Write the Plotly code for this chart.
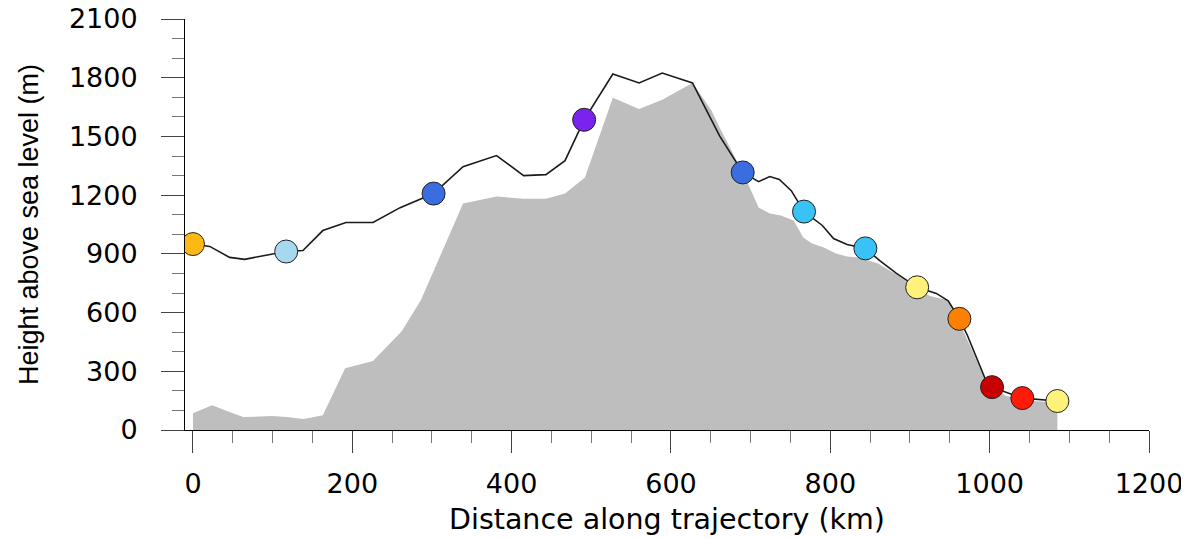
import plotly.graph_objects as go

# Trajectory (distance km, height m)
traj_km = [0, 21, 46, 65, 90, 117, 138, 163, 192, 226, 260, 302, 339, 381, 415, 443, 467, 491,
           527, 560, 589, 627, 661, 690, 710, 724, 736, 751, 767, 790, 804, 821, 844, 862, 883,
           909, 933, 948, 962, 972, 994, 1003, 1041, 1085]
traj_h = [950, 938, 882, 872, 892, 912, 917, 1019, 1060, 1060, 1136, 1208, 1345, 1402, 1300, 1305, 1376, 1585,
          1819, 1773, 1824, 1773, 1503, 1316, 1269, 1295, 1280, 1223, 1116, 1045, 978, 948, 928, 866, 800,
          729, 698, 660, 568, 484, 265, 219, 163, 148]

# Marked positions along trajectory
marker_km = [0, 117, 302, 491, 690, 767, 844, 909, 962, 1003, 1041, 1085]
marker_h = [950, 912, 1208, 1585, 1316, 1116, 928, 729, 568, 219, 163, 148]
marker_colors = ["#FDB913", "#A8D8F0", "#3A6DE0", "#7B22EE", "#3A6DE0", "#38C2F5",
                 "#38C2F5", "#FFF27A", "#FF8000", "#C80000", "#FF1A0A", "#FFF27A"]

# Terrain profile under the trajectory
terrain_km = [0, 24, 46, 63, 99, 118, 139, 163, 191, 226, 262, 286, 339, 381, 415, 443, 467, 492,
              527, 560, 589, 627, 651, 661, 690, 695, 710, 724, 738, 754, 766, 777, 792, 807, 821,
              836, 860, 885, 905, 925, 948, 955, 978, 994, 1020, 1050, 1085]
terrain_h = [86, 127, 92, 66, 71, 66, 56, 76, 315, 352, 505, 663, 1157, 1193, 1182, 1182, 1208, 1290,
             1697, 1640, 1687, 1773, 1631, 1545, 1316, 1274, 1137, 1106, 1096, 1070, 984, 953, 933, 902, 887,
             882, 851, 790, 735, 685, 663, 612, 408, 255, 175, 150, 140]

x_ticks = [0, 200, 400, 600, 800, 1000, 1200]
y_ticks = [0, 300, 600, 900, 1200, 1500, 1800, 2100]

fig = go.Figure()
fig.add_trace(go.Scatter(x=terrain_km, y=terrain_h, mode="lines", fill="tozeroy",
                         fillcolor="#BEBEBE", line=dict(width=0, color="#BEBEBE"),
                         hoverinfo="skip", showlegend=False))
fig.add_trace(go.Scatter(x=traj_km, y=traj_h, mode="lines",
                         line=dict(color="#1a1a1a", width=1.6), showlegend=False))
fig.add_trace(go.Scatter(x=marker_km, y=marker_h, mode="markers",
                         marker=dict(size=23, color=marker_colors,
                                     line=dict(color="#222222", width=1)),
                         showlegend=False))

font_main = "Liberation Sans, Arial, sans-serif"
tick_font = dict(family="DejaVu Sans, sans-serif", size=27)
fig.update_layout(
    width=1189, height=539,
    margin=dict(l=177, r=48, t=11, b=117),
    paper_bgcolor="white", plot_bgcolor="white",
    font=dict(family=font_main, color="black", size=24),
    xaxis=dict(range=[-10, 1200], tickvals=x_ticks, ticks="outside", ticklen=22,
               tickwidth=1, tickcolor="#444", showline=True, linecolor="black", linewidth=1,
               showgrid=False, zeroline=False, automargin=False, ticklabeloverflow="allow",
               minor=dict(dtick=50, ticks="outside", ticklen=12, tickcolor="#777", showgrid=False),
               tickfont=tick_font, ticklabelstandoff=8,
               title=dict(text="Distance along trajectory (km)",
                          font=dict(family="DejaVu Sans, sans-serif", size=28.5), standoff=10)),
    yaxis=dict(range=[0, 2100], tickvals=y_ticks, ticks="outside", ticklen=23,
               tickwidth=1, tickcolor="#444", showline=True, linecolor="black", linewidth=1,
               showgrid=False, zeroline=False, automargin=False, ticklabeloverflow="allow",
               minor=dict(dtick=100, ticks="outside", ticklen=12, tickcolor="#777", showgrid=False),
               tickfont=tick_font, ticklabelstandoff=18,
               title=dict(text="Height above sea level (m)",
                          font=dict(family=font_main, size=27), standoff=22)),
)

fig.write_html("out.html")
